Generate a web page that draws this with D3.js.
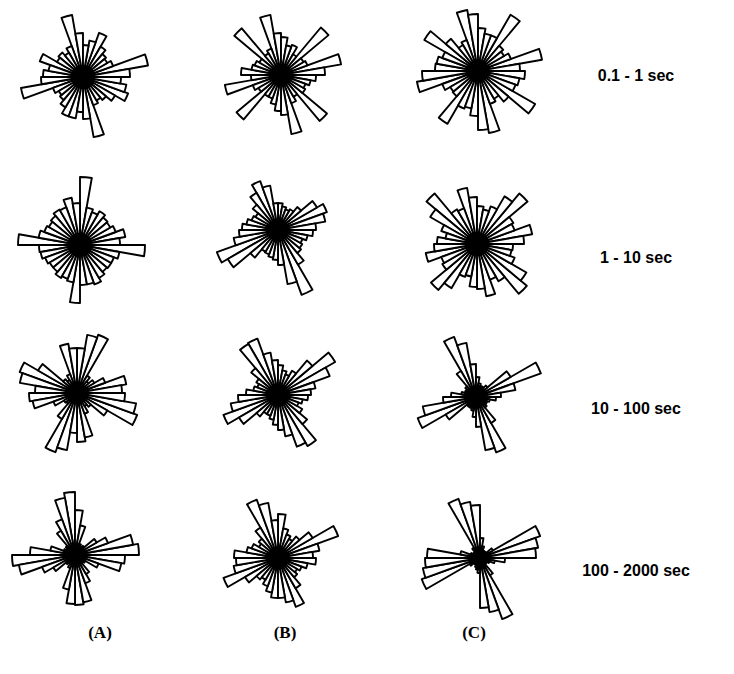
<!DOCTYPE html>
<html>
<head>
<meta charset="utf-8">
<script src="https://cdn.jsdelivr.net/npm/d3@7"></script>
<style>
  html, body { margin: 0; padding: 0; background: #fff; }
  svg { display: block; }
</style>
</head>
<body>
<svg id="chart" width="734" height="674"></svg>
<script>
// Orientation rose diagrams: 36 bins of 10 degrees, measured counter-clockwise from east.
// Values are relative frequencies (arbitrary common units across all panels).
const binDegrees = 10;

const roseA1 = [47, 66, 32, 28, 30, 35, 47, 37, 32, 44, 63, 33, 28, 32, 30, 46, 35, 40,
                42, 63, 32, 28, 30, 35, 42, 42, 35, 42, 61, 30, 27, 30, 37, 48, 44, 38];
const roseB1 = [44, 61, 28, 26, 62, 24, 32, 30, 38, 42, 61, 28, 25, 61, 25, 28, 30, 40,
                30, 57, 30, 26, 58, 25, 25, 30, 36, 40, 60, 30, 25, 60, 28, 26, 30, 35];
const roseC1 = [42, 65, 35, 30, 33, 65, 38, 38, 43, 57, 62, 33, 30, 42, 62, 38, 42, 43,
                56, 62, 38, 32, 33, 61, 40, 38, 45, 59, 63, 35, 32, 40, 66, 40, 42, 47];

const roseA2 = [40, 46, 38, 35, 36, 39, 35, 38, 68, 42, 48, 40, 41, 38, 36, 38, 42, 62,
                41, 40, 37, 35, 35, 38, 36, 38, 58, 40, 40, 42, 38, 35, 36, 36, 40, 65];
const roseB2 = [38, 48, 52, 45, 30, 24, 22, 24, 27, 27, 45, 52, 43, 33, 26, 28, 32, 36,
                39, 45, 65, 58, 36, 25, 26, 28, 30, 35, 55, 69, 40, 30, 28, 26, 30, 35];
const roseC2 = [47, 56, 40, 42, 66, 55, 40, 35, 38, 47, 57, 38, 40, 66, 54, 38, 32, 40,
                43, 52, 38, 40, 60, 51, 35, 33, 43, 45, 53, 38, 43, 65, 57, 40, 35, 36];

const roseA3 = [45, 50, 30, 20, 15, 20, 62, 59, 45, 45, 50, 20, 15, 18, 45, 61, 58, 42,
                48, 45, 25, 15, 14, 30, 63, 58, 40, 49, 45, 22, 15, 18, 35, 64, 60, 48];
const roseB3 = [33, 38, 55, 66, 45, 28, 22, 25, 30, 35, 43, 60, 59, 35, 25, 22, 25, 32,
                40, 48, 58, 45, 28, 22, 22, 25, 30, 35, 42, 55, 59, 38, 28, 22, 25, 30];
const roseC3 = [25, 40, 69, 40, 15, 12, 12, 14, 20, 33, 55, 64, 30, 14, 12, 12, 15, 25,
                33, 54, 62, 35, 12, 12, 12, 14, 20, 30, 54, 59, 30, 14, 12, 12, 14, 20];

const roseA4 = [64, 59, 35, 25, 12, 10, 12, 30, 45, 63, 58, 38, 28, 12, 10, 12, 25, 45,
                63, 57, 35, 25, 12, 10, 14, 35, 49, 50, 48, 30, 22, 10, 12, 25, 47, 50];
const roseB4 = [35, 42, 64, 40, 28, 22, 25, 30, 44, 38, 56, 62, 35, 25, 22, 28, 32, 44,
                42, 45, 58, 38, 28, 25, 30, 35, 40, 40, 45, 52, 35, 25, 22, 25, 30, 38];
const roseC4 = [56, 59, 64, 15, 8, 8, 8, 12, 20, 53, 57, 63, 12, 8, 8, 10, 20, 53,
                55, 58, 62, 12, 8, 8, 10, 12, 15, 50, 55, 65, 20, 8, 8, 10, 15, 25];

const columnLabels = ["(A)", "(B)", "(C)"];
const rowLabels = ["0.1 - 1 sec", "1 - 10 sec", "10 - 100 sec", "100 - 2000 sec"];

// Grid of panels: rows are time windows, columns are the three cases.
const grid = [
  [roseA1, roseB1, roseC1],
  [roseA2, roseB2, roseC2],
  [roseA3, roseB3, roseC3],
  [roseA4, roseB4, roseC4]
];

// Panel centres and hub sizes (layout only)
const centres = [
  [[83, 77], [281, 75], [478, 71]],
  [[80, 245], [278, 230], [477, 244]],
  [[77, 393], [278, 395], [476, 397]],
  [[75, 555], [278, 558], [480, 558]]
];
const hubRadius = [
  [12, 11, 11],
  [12, 10, 12],
  [7, 9, 10],
  [6, 10, 6]
];

const svg = d3.select("#chart");

const r = d3.scaleLinear().domain([0, 70]).range([0, 70]);
const toRad = Math.PI / 180;
const arc = d3.arc()
  .innerRadius(0)
  .outerRadius(d => r(d.value))
  // compass-style d3 angles from math angles (counter-clockwise from east)
  .startAngle(d => (90 - d.theta0 - binDegrees) * toRad)
  .endAngle(d => (90 - d.theta0) * toRad);

grid.forEach((row, ri) => {
  row.forEach((values, ci) => {
    const [cx, cy] = centres[ri][ci];
    const g = svg.append("g").attr("transform", `translate(${cx},${cy})`);
    const bins = values.map((v, i) => ({ theta0: i * binDegrees, value: v }));
    g.selectAll("path.petal")
      .data(bins.slice().sort((a, b) => b.value - a.value))
      .join("path")
      .attr("class", "petal")
      .attr("d", arc)
      .attr("fill", "#fff")
      .attr("stroke", "#000")
      .attr("stroke-width", 1.9)
      .attr("stroke-linejoin", "round");
    g.append("circle")
      .attr("r", hubRadius[ri][ci])
      .attr("fill", "#000");
  });
});

// Time-window labels on the right
const rowLabelY = [81, 263, 414, 576];
svg.selectAll("text.row")
  .data(rowLabels)
  .join("text")
  .attr("class", "row")
  .attr("x", 636)
  .attr("y", (d, i) => rowLabelY[i])
  .attr("text-anchor", "middle")
  .attr("font-family", "Liberation Sans, Arial, sans-serif")
  .attr("font-weight", "bold")
  .attr("font-size", 16)
  .text(d => d);

// Case labels along the bottom
const colLabelX = [100, 285, 474];
svg.selectAll("text.col")
  .data(columnLabels)
  .join("text")
  .attr("class", "col")
  .attr("x", (d, i) => colLabelX[i])
  .attr("y", 638)
  .attr("text-anchor", "middle")
  .attr("font-family", "Liberation Serif, Times New Roman, serif")
  .attr("font-weight", "bold")
  .attr("font-size", 17)
  .text(d => d);
</script>
</body>
</html>
